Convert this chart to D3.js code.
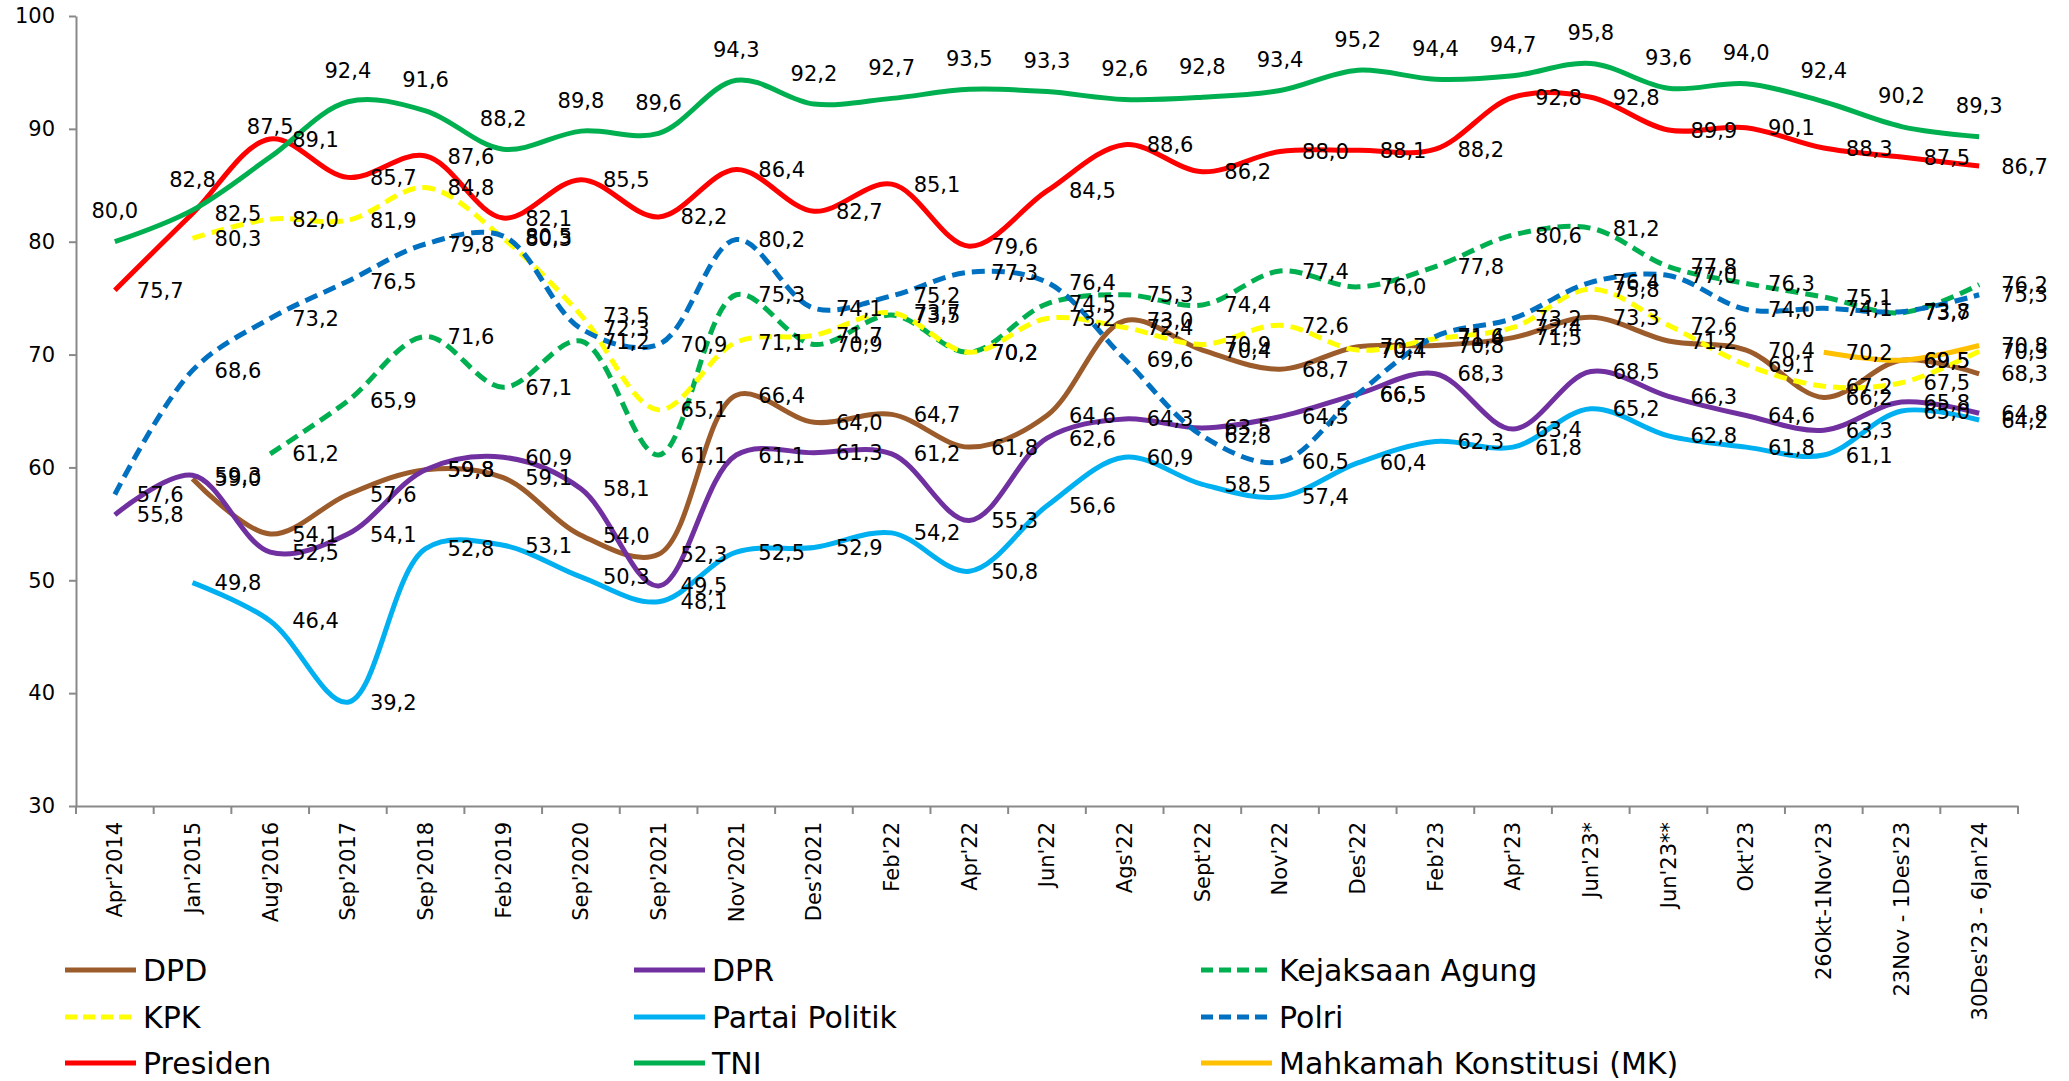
<!DOCTYPE html>
<html>
<head>
<meta charset="utf-8">
<script src="https://cdn.jsdelivr.net/npm/d3@7"></script>
<style>
  body { margin: 0; background: #fff; }
  text { font-family: "DejaVu Sans", sans-serif; }
</style>
</head>
<body>
<div class="chart"></div>
<script>
var categories = ["Apr'2014", "Jan'2015", "Aug'2016", "Sep'2017", "Sep'2018", "Feb'2019", "Sep'2020",
  "Sep'2021", "Nov'2021", "Des'2021", "Feb'22", "Apr'22", "Jun'22", "Ags'22", "Sept'22", "Nov'22",
  "Des'22", "Feb'23", "Apr'23", "Jun'23*", "Jun'23**", "Okt'23", "26Okt-1Nov'23", "23Nov - 1Des'23",
  "30Des'23 - 6Jan'24"];

var dpd = [null, 59.0, 54.1, 57.6, 59.8, 59.1, 54.0, 52.3, 66.4, 64.0, 64.7, 61.8, 64.6, 73.0, 70.4,
  68.7, 70.7, 70.8, 71.5, 73.3, 71.2, 70.4, 66.2, 69.5, 68.3];
var dpr = [55.8, 59.3, 52.5, 54.1, 59.8, 60.9, 58.1, 49.5, 61.1, 61.3, 61.2, 55.3, 62.6, 64.3, 63.5,
  64.5, 66.5, 68.3, 63.4, 68.5, 66.3, 64.6, 63.3, 65.8, 64.8];
var kejaksaan = [null, null, 61.2, 65.9, 71.6, 67.1, 71.2, 61.1, 75.3, 70.9, 73.5, 70.2, 74.5, 75.3, 74.4,
  77.4, 76.0, 77.8, 80.6, 81.2, 77.8, 76.3, 75.1, 73.7, 76.2];
var kpk = [null, 80.3, 82.0, 81.9, 84.8, 80.3, 73.5, 65.1, 71.1, 71.7, 73.7, 70.2, 73.2, 72.4, 70.9,
  72.6, 70.4, 71.4, 72.4, 75.8, 72.6, 69.1, 67.2, 67.5, 70.3];
var partai = [null, 49.8, 46.4, 39.2, 52.8, 53.1, 50.3, 48.1, 52.5, 52.9, 54.2, 50.8, 56.6, 60.9, 58.5,
  57.4, 60.4, 62.3, 61.8, 65.2, 62.8, 61.8, 61.1, 65.0, 64.2];
var polri = [57.6, 68.6, 73.2, 76.5, 79.8, 80.5, 72.3, 70.9, 80.2, 74.1, 75.2, 77.3, 76.4, 69.6, 62.8,
  60.5, 66.5, 71.6, 73.2, 76.4, 77.0, 74.0, 74.1, 73.8, 75.3];
var presiden = [75.7, 82.5, 89.1, 85.7, 87.6, 82.1, 85.5, 82.2, 86.4, 82.7, 85.1, 79.6, 84.5, 88.6, 86.2,
  88.0, 88.1, 88.2, 92.8, 92.8, 89.9, 90.1, 88.3, 87.5, 86.7];
var tni = [80.0, 82.8, 87.5, 92.4, 91.6, 88.2, 89.8, 89.6, 94.3, 92.2, 92.7, 93.5, 93.3, 92.6, 92.8,
  93.4, 95.2, 94.4, 94.7, 95.8, 93.6, 94.0, 92.4, 90.2, 89.3];
var mk = [null, null, null, null, null, null, null, null, null, null, null, null, null, null, null,
  null, null, null, null, null, null, null, 70.2, 69.5, 70.8];

var yTicks = [30, 40, 50, 60, 70, 80, 90, 100];

var series = [
  {name: 'DPD', values: dpd, color: '#9c5b2a', dash: null, pos: 'right'},
  {name: 'DPR', values: dpr, color: '#7030a0', dash: null, pos: 'right'},
  {name: 'Kejaksaan Agung', values: kejaksaan, color: '#00b050', dash: '13 7', pos: 'right'},
  {name: 'KPK', values: kpk, color: '#ffff00', dash: '13 7', pos: 'right'},
  {name: 'Partai Politik', values: partai, color: '#00b0f0', dash: null, pos: 'right'},
  {name: 'Polri', values: polri, color: '#0070c0', dash: '13 7', pos: 'right'},
  {name: 'Presiden', values: presiden, color: '#ff0000', dash: null, pos: 'right'},
  {name: 'TNI', values: tni, color: '#00b050', dash: null, pos: 'above'},
  {name: 'Mahkamah Konstitusi (MK)', values: mk, color: '#ffc000', dash: null, pos: 'right'}
];

var width = 2069,
  height = 1081,
  axisColor = '#898989',
  svg;

var fmt = d3.formatLocale({decimal: ',', thousands: '.', grouping: [3], currency: ['', '']}).format('.1f');

function drawChart() {
  svg = d3.select('.chart')
    .append('svg')
    .attr('width', width)
    .attr('height', height);

  var x = d3.scaleBand()
    .domain(categories)
    .range([76, 2018]);

  var y = d3.scaleLinear()
    .domain([30, 100])
    .range([806, 16]);

  var cx = function (i) {
    return x(categories[i]) + x.bandwidth() / 2;
  };

  // y axis
  var yAxis = svg.append('g')
    .attr('transform', 'translate(76,0)')
    .call(d3.axisLeft(y).tickValues(yTicks).tickSize(7).tickSizeOuter(0).tickPadding(14));
  yAxis.selectAll('path, line').attr('stroke', axisColor).attr('stroke-width', 2);
  yAxis.selectAll('text').attr('font-size', 21).attr('fill', '#000')
    .style('font-family', '"DejaVu Sans", sans-serif');

  // x axis, labels rotated, ticks between categories
  var xAxis = svg.append('g')
    .attr('transform', 'translate(0,806)')
    .call(d3.axisBottom(x).tickSize(0).tickSizeOuter(0));
  xAxis.select('.domain').attr('stroke', axisColor).attr('stroke-width', 2);
  xAxis.selectAll('text')
    .attr('font-size', 21)
    .attr('fill', '#000')
    .style('font-family', '"DejaVu Sans", sans-serif')
    .attr('text-anchor', 'end')
    .attr('transform', 'rotate(-90)')
    .attr('x', -16)
    .attr('y', 0)
    .attr('dy', '0.35em');

  xAxis.selectAll('.sep')
    .data(d3.range(categories.length + 1))
    .enter()
    .append('line')
    .attr('class', 'sep')
    .attr('x1', d => x.range()[0] + d * x.step())
    .attr('x2', d => x.range()[0] + d * x.step())
    .attr('y1', 0)
    .attr('y2', 8)
    .attr('stroke', axisColor)
    .attr('stroke-width', 2);

  var line = d3.line()
    .defined(d => d != null)
    .x((d, i) => cx(i))
    .y(d => y(d))
    .curve(d3.curveCatmullRom.alpha(0.5));

  svg.append('g')
    .attr('class', 'lines')
    .selectAll('path')
    .data(series)
    .enter()
    .append('path')
    .attr('d', d => line(d.values))
    .attr('fill', 'none')
    .attr('stroke', d => d.color)
    .attr('stroke-width', 5)
    .attr('stroke-dasharray', d => d.dash);

  var labels = [];
  series.forEach(function (s) {
    s.values.forEach(function (v, i) {
      if (v != null) labels.push({v: v, i: i, pos: s.pos});
    });
  });

  svg.append('g')
    .attr('class', 'labels')
    .selectAll('text')
    .data(labels)
    .enter()
    .append('text')
    .attr('x', d => d.pos === 'above' ? cx(d.i) : cx(d.i) + 22)
    .attr('y', d => d.pos === 'above' ? y(d.v) - 31 : y(d.v))
    .attr('dy', '0.36em')
    .attr('text-anchor', d => d.pos === 'above' ? 'middle' : 'start')
    .attr('font-size', 21)
    .attr('fill', '#000')
    .text(d => fmt(d.v));

  // legend, three columns
  var colX = [65, 634, 1201],
    rowY = [970, 1017, 1063];

  var legend = svg.append('g')
    .attr('class', 'legend')
    .selectAll('g')
    .data(series)
    .enter()
    .append('g')
    .attr('transform', (d, i) => 'translate(' + colX[i % 3] + ',' + rowY[Math.floor(i / 3)] + ')');

  legend.append('line')
    .attr('x1', 0)
    .attr('x2', 71)
    .attr('stroke', d => d.color)
    .attr('stroke-width', 5)
    .attr('stroke-dasharray', d => d.dash ? '12 6' : null);

  legend.append('text')
    .attr('x', 78)
    .attr('dy', '0.36em')
    .attr('font-size', 30)
    .attr('fill', '#000')
    .text(d => d.name);
}

drawChart();
</script>
</body>
</html>
